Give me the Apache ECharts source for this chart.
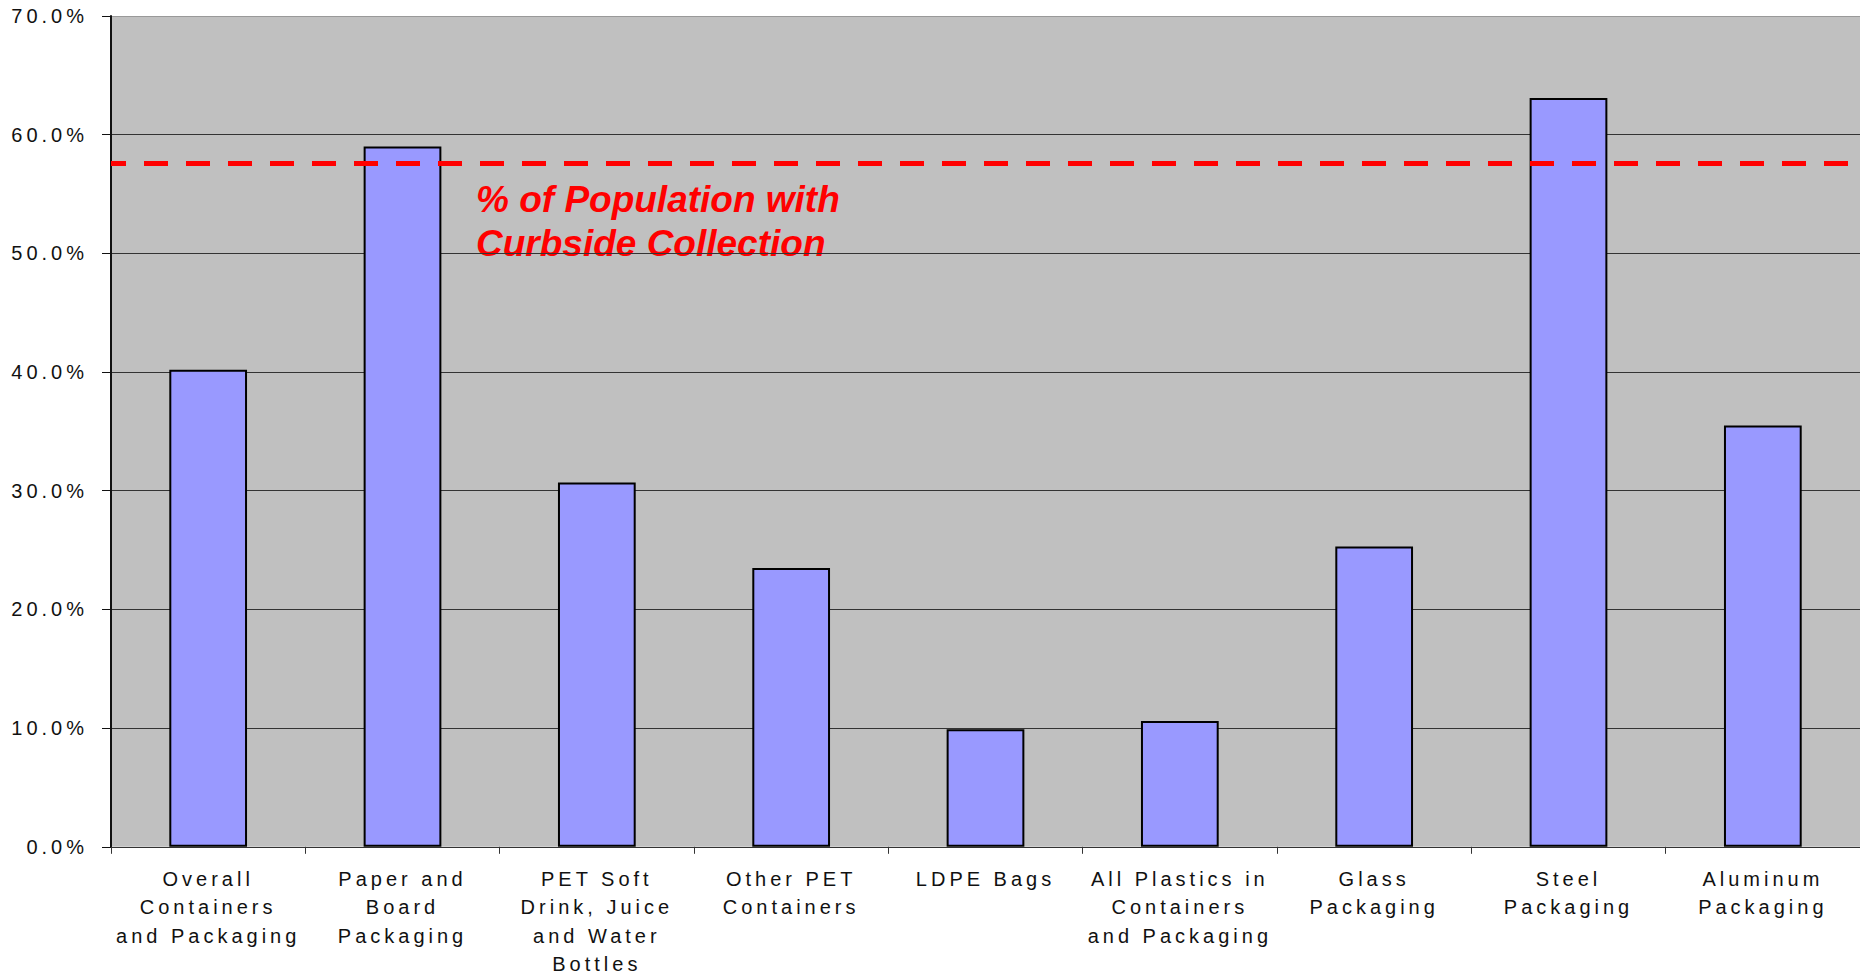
<!DOCTYPE html>
<html>
<head>
<meta charset="utf-8">
<script src="https://cdn.jsdelivr.net/npm/echarts@6/dist/echarts.min.js"></script>
<style>
html,body{margin:0;padding:0;background:#fff;}
#chart{width:1860px;height:978px;}
#chart svg text{letter-spacing:4px;}
#chart svg text[fill="#FF0000"], #chart svg text[style*="36px"], #chart svg text[style*="37px"]{letter-spacing:normal;}
</style>
</head>
<body>
<div id="chart"></div>
<script>
const categories = [
  "Overall\nContainers\nand Packaging",
  "Paper and\nBoard\nPackaging",
  "PET Soft\nDrink, Juice\nand Water\nBottles",
  "Other PET\nContainers",
  "LDPE Bags",
  "All Plastics in\nContainers\nand Packaging",
  "Glass\nPackaging",
  "Steel\nPackaging",
  "Aluminum\nPackaging"
];
const recyclingRate = [40.2, 59.0, 30.7, 23.5, 9.9, 10.6, 25.3, 63.1, 35.5];
const curbsidePopulation = 57.6;
const curbsideLabel = "% of Population with\nCurbside Collection";
const yTicks = { min: 0, max: 70, interval: 10 };

const chart = echarts.init(document.getElementById('chart'), null, { renderer: 'svg' });
const font = '"Liberation Sans", Arial, sans-serif';
chart.setOption({
  animation: false,
  backgroundColor: '#ffffff',
  grid: { left: 111, right: 0, top: 16, bottom: 126, show: true, backgroundColor: '#C0C0C0', borderWidth: 0 },
  xAxis: {
    type: 'category',
    data: categories,
    boundaryGap: true,
    axisLine: { show: true, lineStyle: { color: '#333', width: 1 } },
    axisTick: { show: true, length: 7, inside: false, lineStyle: { color: '#333' } },
    axisLabel: { color: '#111', fontFamily: font, fontSize: 20, lineHeight: 28.3, margin: 18, interval: 0 },
    splitLine: { show: false }
  },
  yAxis: {
    type: 'value',
    min: yTicks.min, max: yTicks.max, interval: yTicks.interval,
    axisLine: { show: true, lineStyle: { color: '#111', width: 2 } },
    axisTick: { show: true, length: 9, lineStyle: { color: '#111' } },
    axisLabel: { color: '#111', fontFamily: font, fontSize: 20, margin: 23, formatter: v => v.toFixed(1) + '%' },
    splitLine: { show: true, lineStyle: { color: ['#333','#333','#333','#333','#333','#333','#333','#999'], width: 1 } }
  },
  series: [{
    type: 'bar',
    data: recyclingRate,
    barWidth: '40%',
    itemStyle: { color: '#9999FF', borderColor: '#000', borderWidth: 2 },
    markLine: {
      silent: true,
      symbol: ['none', 'none'],
      label: { show: false },
      lineStyle: { color: '#FF0000', width: 5, type: [24, 18], dashOffset: 9 },
      data: [{ yAxis: curbsidePopulation }]
    }
  }],
  graphic: [{
    type: 'text',
    left: 476,
    top: 177,
    style: {
      text: curbsideLabel,
      fill: '#FF0000',
      font: 'italic bold 37px "Liberation Sans", Arial, sans-serif',
      lineHeight: 44,
      textAlign: 'left'
    }
  }]
});
</script>
</body>
</html>
